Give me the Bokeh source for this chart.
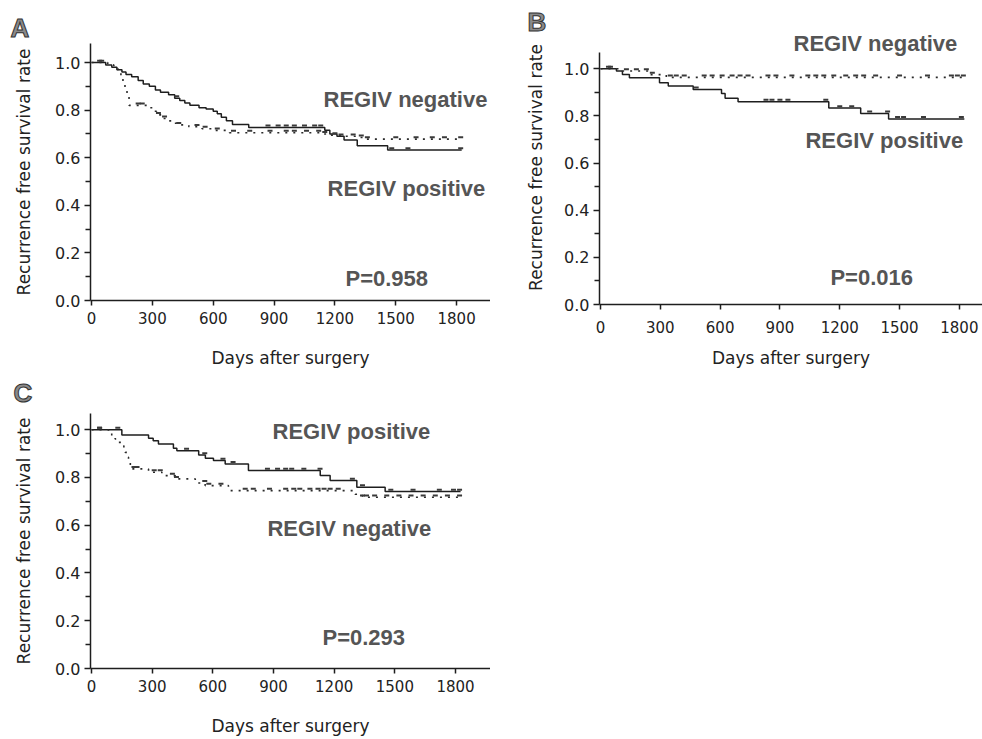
import numpy as np
from bokeh.plotting import figure
from bokeh.models import Label, FixedTicker, Range1d, Title, PrintfTickFormatter
from bokeh.layouts import column, row
from bokeh.embed import file_html
from bokeh.resources import INLINE

# ---------------- data (days, survival) ----------------
END_DAY = 1825

a_solid_t = [0, 70, 100, 125, 150, 170, 198, 230, 255, 285, 315, 340, 380, 410, 435, 460, 485, 530, 565, 600, 620, 640, 665, 695, 775, 1150, 1175, 1210, 1245, 1310, 1460]
a_solid_s = [1.0, 0.99, 0.98, 0.97, 0.96, 0.95, 0.94, 0.925, 0.91, 0.90, 0.885, 0.875, 0.865, 0.85, 0.84, 0.83, 0.82, 0.81, 0.805, 0.795, 0.785, 0.77, 0.755, 0.74, 0.727, 0.715, 0.70, 0.69, 0.675, 0.65, 0.632]
a_dot_t = [0, 80, 110, 130, 145, 155, 165, 175, 185, 280, 300, 320, 345, 370, 400, 430, 480, 545, 600, 680, 1130, 1180, 1230, 1300, 1340]
a_dot_s = [1.0, 0.99, 0.975, 0.96, 0.94, 0.92, 0.89, 0.86, 0.82, 0.81, 0.795, 0.78, 0.765, 0.755, 0.745, 0.738, 0.73, 0.722, 0.715, 0.705, 0.70, 0.695, 0.69, 0.685, 0.678]
a_solid_cens = [40, 420, 870, 920, 960, 1000, 1050, 1100, 1130, 1480, 1560, 1820]
a_dot_cens = [50, 230, 250, 330, 360, 430, 520, 560, 620, 700, 780, 880, 960, 1000, 1060, 1120, 1150, 1200, 1230, 1290, 1330, 1360, 1500, 1600, 1680, 1740, 1820]

b_solid_t = [0, 80, 110, 145, 296, 340, 465, 607, 625, 690, 1145, 1305, 1445]
b_solid_s = [1.0, 0.99, 0.975, 0.962, 0.94, 0.927, 0.912, 0.895, 0.875, 0.86, 0.833, 0.81, 0.787]
b_dot_t = [0, 110, 250, 330]
b_dot_s = [1.0, 0.99, 0.975, 0.963]
b_solid_cens = [50, 480, 830, 860, 900, 940, 1130, 1200, 1260, 1350, 1440, 1490, 1520, 1620, 1810]
b_dot_cens = [40, 130, 180, 230, 260, 350, 380, 420, 520, 560, 610, 660, 700, 740, 840, 880, 960, 1040, 1080, 1120, 1170, 1230, 1280, 1320, 1380, 1500, 1640, 1760, 1790, 1820]

c_solid_t = [0, 150, 282, 305, 331, 405, 422, 530, 563, 603, 661, 776, 1131, 1180, 1312, 1452]
c_solid_s = [1.0, 0.978, 0.964, 0.954, 0.94, 0.922, 0.912, 0.894, 0.881, 0.871, 0.857, 0.829, 0.808, 0.787, 0.759, 0.741]
c_dot_t = [0, 84, 100, 117, 135, 150, 160, 167, 175, 183, 192, 200, 282, 348, 414, 513, 562, 677, 1304, 1340]
c_dot_s = [1.0, 0.989, 0.975, 0.961, 0.947, 0.933, 0.919, 0.905, 0.885, 0.865, 0.848, 0.836, 0.822, 0.808, 0.794, 0.777, 0.766, 0.745, 0.73, 0.717]
c_solid_cens = [40, 130, 470, 560, 650, 700, 870, 920, 960, 990, 1050, 1130, 1290, 1340, 1480, 1590, 1720, 1790, 1820]
c_dot_cens = [40, 210, 225, 310, 340, 400, 420, 560, 580, 640, 760, 800, 880, 960, 1000, 1030, 1080, 1120, 1150, 1180, 1220, 1340, 1360, 1400, 1460, 1520, 1580, 1640, 1700, 1760, 1820]

x_ticks = [0, 300, 600, 900, 1200, 1500, 1800]
y_ticks = [0.0, 0.2, 0.4, 0.6, 0.8, 1.0]
y_minor = [0.1, 0.3, 0.5, 0.7, 0.9]

x_title = "Days after surgery"
y_title = "Recurrence free survival rate"

# ---------------- helpers ----------------
LINE = "#1e1e1e"
TXT = "#555555"


def step_xy(t, s):
    return list(t) + [END_DAY], list(s) + [s[-1]]


def cens_y(t, s, c):
    idx = np.searchsorted(np.array(t), np.array(c), side="right") - 1
    return [s[i] + 0.008 for i in idx]


def panel(w, h, left, top, bottom, right, xr, yr, ybounds, curves, labels, letter,
          title_standoff=18, xlab_standoff=6, xtitle_standoff=21):
    p = figure(width=w, height=h, output_backend="svg", toolbar_location=None,
               x_range=Range1d(*xr), y_range=Range1d(*yr),
               min_border_left=left, min_border_top=top,
               min_border_bottom=bottom, min_border_right=right)
    p.frame_align = False
    p.outline_line_color = None
    p.grid.visible = False
    p.background_fill_color = "white"
    p.border_fill_color = "white"

    for ax in (p.xaxis[0], p.yaxis[0]):
        ax.axis_line_color = LINE
        ax.axis_line_width = 1.5
        ax.major_tick_line_color = LINE
        ax.major_tick_line_width = 1.5
        ax.minor_tick_line_color = LINE
        ax.minor_tick_line_width = 1.5
        ax.major_tick_in = 0
        ax.minor_tick_in = 0
        ax.major_label_text_font = "DejaVu Sans"
        ax.major_label_text_color = "#222222"
        ax.axis_label_text_font = "DejaVu Sans"
        ax.axis_label_text_font_style = "normal"
        ax.axis_label_text_color = "#222222"
        ax.axis_label_text_font_size = "17px"

    p.xaxis.ticker = FixedTicker(ticks=x_ticks)
    p.xaxis.major_tick_out = 5
    p.xaxis.minor_tick_out = 0
    p.xaxis.major_label_standoff = xlab_standoff
    p.xaxis.major_label_text_font_size = "15px"
    p.xaxis.axis_label = x_title
    p.xaxis.axis_label_standoff = xtitle_standoff

    p.yaxis.ticker = FixedTicker(ticks=y_ticks, minor_ticks=y_minor)
    p.yaxis.bounds = ybounds
    p.yaxis.major_tick_out = 6
    p.yaxis.minor_tick_out = 5
    p.yaxis.major_label_standoff = 4
    p.yaxis.major_label_text_font_size = "16px"
    p.yaxis.formatter = PrintfTickFormatter(format="%.1f")
    p.yaxis.axis_label = y_title
    p.yaxis.axis_label_standoff = title_standoff

    for (t, s, cens, dash) in curves:
        xs, ys = step_xy(t, s)
        if dash:
            p.step(xs, ys, mode="after", line_color="#2a2a2a", line_width=1.6,
                   line_dash="2 6")
        else:
            p.step(xs, ys, mode="after", line_color=LINE, line_width=1.5)
        p.scatter(cens, cens_y(t, s, cens), marker="dash", size=5,
                  line_color="#3a3a3a", line_width=2)

    for (txt, x, y) in labels:
        p.add_layout(Label(x=x, y=y, text=txt, text_font="Liberation Sans",
                           text_font_style="bold", text_font_size="22px",
                           text_color=TXT, text_baseline="middle",
                           text_align="left"))
    lt, loff, lstand = letter
    p.title = Title(text=lt, align="left", offset=loff, standoff=lstand,
                    text_font="Liberation Sans", text_font_style="bold",
                    text_font_size="26px", text_color="#8a8a8a",
                    text_outline_color="#333333")
    return p


pA = panel(490, 370, 90, 43, 69, 0, (-5, 1967), (0, 1.08), (0, 1.08),
           [(a_solid_t, a_solid_s, a_solid_cens, False),
            (a_dot_t, a_dot_s, a_dot_cens, True)],
           [("REGIV negative", 1144, 0.845),
            ("REGIV positive", 1164, 0.47),
            ("P=0.958", 1252, 0.092)],
           ("A", -80, 2))

pB = panel(492, 370, 109, 30, 65, 0, (-5, 1916), (0, 1.162), (0, 1.069),
           [(b_solid_t, b_solid_s, b_solid_cens, False),
            (b_dot_t, b_dot_s, b_dot_cens, True)],
           [("REGIV negative", 968, 1.105),
            ("REGIV positive", 1028, 0.697),
            ("P=0.016", 1153, 0.116)],
           ("B", -72, -12.5), title_standoff=15,
           xlab_standoff=11, xtitle_standoff=12)

pC = panel(490, 368, 90, 43, 69, 0, (-5, 1973), (0, 1.068), (0, 1.068),
           [(c_solid_t, c_solid_s, c_solid_cens, False),
            (c_dot_t, c_dot_s, c_dot_cens, True)],
           [("REGIV positive", 895, 0.993),
            ("REGIV negative", 870, 0.586),
            ("P=0.293", 1142, 0.131)],
           ("C", -77, 10.5), xlab_standoff=6, xtitle_standoff=21)

layout = column(row(pA, pB), pC)
open("out.html", "w").write(file_html(layout, INLINE))
